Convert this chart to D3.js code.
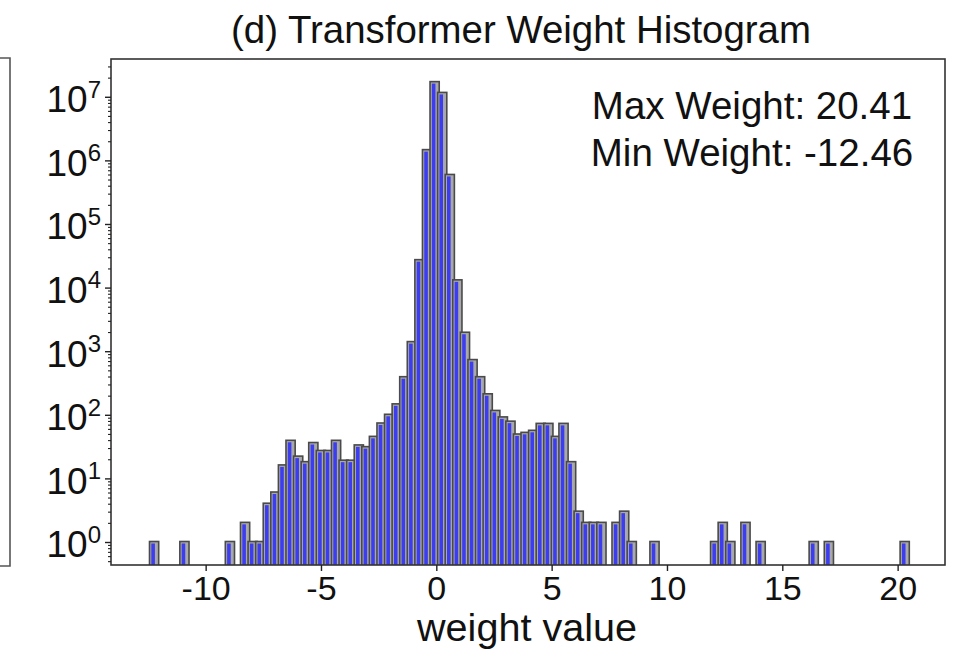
<!DOCTYPE html>
<html>
<head>
<meta charset="utf-8">
<script src="https://cdn.jsdelivr.net/npm/d3@7"></script>
<style>
  html, body { margin: 0; padding: 0; background: #fff; }
  svg { display: block; font-family: "Liberation Sans", Arial, Helvetica, sans-serif; }
</style>
</head>
<body>
<svg id="chart" width="961" height="659"></svg>
<script>
// ---- data ----
const titleText = "(d) Transformer Weight Histogram";
const xLabelText = "weight value";
const minWeight = -12.46;
const maxWeight = 20.41;
// counts of the 100 equal-width bins between minWeight and maxWeight
const binCounts = [
  1, 0, 0, 0, 1, 0, 0, 0, 0, 0,
  1, 0, 2, 1, 1, 4, 6, 16, 39, 22,
  18, 36, 27, 27, 39, 19, 19, 33, 31, 45,
  73, 100, 146, 390, 1390, 27000, 1450000, 17000000, 11500000, 590000,
  13000, 1950, 725, 390, 210, 115, 91, 78, 49, 52,
  56, 72, 72, 45, 72, 18, 3, 2, 2, 2,
  0, 2, 3, 1, 0, 0, 1, 0, 0, 0,
  0, 0, 0, 0, 1, 2, 1, 0, 2, 0,
  1, 0, 0, 0, 0, 0, 0, 1, 0, 1,
  0, 0, 0, 0, 0, 0, 0, 0, 0, 1
];
const xTickValues = [-10, -5, 0, 5, 10, 15, 20];
const yTickExponents = [0, 1, 2, 3, 4, 5, 6, 7];
const annotationLines = ["Max Weight: 20.41", "Min Weight: -12.46"];

// ---- layout ----
const svg = d3.select("#chart");
const W = 961, H = 659;
const margin = { left: 111, right: 16, top: 59, bottom: 94 };
const pw = W - margin.left - margin.right;
const ph = H - margin.top - margin.bottom;

const nBins = binCounts.length;
const binEdges = d3.range(nBins + 1).map(i => minWeight + (maxWeight - minWeight) * i / nBins);
const span = maxWeight - minWeight;

const x = d3.scaleLinear()
  .domain([minWeight - 0.05 * span, maxWeight + 0.05 * span])
  .range([margin.left, margin.left + pw]);

const y = d3.scaleLog()
  .domain([Math.pow(10, -0.3616), Math.pow(10, 7.594)])
  .range([margin.top + ph, margin.top]);

// partial neighbouring panel on the left edge
svg.append("path")
  .attr("d", `M0,${margin.top - 1}H10V${margin.top + ph + 1}H0`)
  .attr("fill", "none").attr("stroke", "#555").attr("stroke-width", 1.6);

svg.append("clipPath").attr("id", "plotclip")
  .append("rect").attr("x", margin.left).attr("y", margin.top)
  .attr("width", pw).attr("height", ph);

const bins = binCounts.map((c, i) => ({ x0: binEdges[i], x1: binEdges[i + 1], count: c }))
  .filter(d => d.count > 0);

const g = svg.append("g").attr("clip-path", "url(#plotclip)");
const bottomY = margin.top + ph + 2;

// grey outline bars
g.selectAll("rect.outline").data(bins).join("rect")
  .attr("class", "outline")
  .attr("x", d => x(d.x0) + 0.6)
  .attr("width", d => x(d.x1) - x(d.x0) + 1.6)
  .attr("y", d => y(d.count) - 0.5)
  .attr("height", d => bottomY - y(d.count) + 0.5)
  .attr("fill", "#a9a9a9")
  .attr("stroke", "#4a4a4a")
  .attr("stroke-width", 1.6);

// blue fill stripes
g.selectAll("rect.blue").data(bins).join("rect")
  .attr("class", "blue")
  .attr("x", d => x(d.x0) + 2.4)
  .attr("width", 3.6)
  .attr("y", d => y(d.count) + 1.5)
  .attr("height", d => bottomY - y(d.count))
  .attr("fill", "#3c3cf0");

// frame
svg.append("rect")
  .attr("x", margin.left).attr("y", margin.top)
  .attr("width", pw).attr("height", ph)
  .attr("fill", "none").attr("stroke", "#333").attr("stroke-width", 1.6);

// x axis
const xAxis = d3.axisBottom(x).tickValues(xTickValues).tickSize(6).tickPadding(5)
  .tickFormat(d => d3.format("d")(d).replace("−", "-"));
const xg = svg.append("g").attr("transform", `translate(0,${margin.top + ph})`).call(xAxis);
xg.select(".domain").remove();
xg.selectAll(".tick line").attr("stroke", "#222").attr("stroke-width", 1.4);
xg.selectAll(".tick text").attr("font-size", 34).attr("fill", "#111")
  .attr("font-family", "Liberation Sans, Arial, sans-serif");

// y axis (log) major ticks
const yMajor = yTickExponents.map(e => Math.pow(10, e));
const yAxis = d3.axisLeft(y).tickValues(yMajor).tickSize(6).tickPadding(5).tickFormat("");
const yg = svg.append("g").attr("transform", `translate(${margin.left},0)`).call(yAxis);
yg.select(".domain").remove();
yg.selectAll(".tick line").attr("stroke", "#222").attr("stroke-width", 1.4);
yg.selectAll(".tick").each(function(d, i) {
  const t = d3.select(this).append("text")
    .attr("x", -10).attr("dy", "0.4em")
    .attr("text-anchor", "end").attr("fill", "#111")
    .attr("font-family", "Liberation Sans, Arial, sans-serif")
    .attr("font-size", 37);
  t.append("tspan").text("10");
  t.append("tspan").attr("font-size", 24).attr("dy", "-0.6em").text(yTickExponents[i]);
});

// y minor ticks
const minor = [];
for (let e = -1; e <= 7; e++) for (let m = 2; m <= 9; m++) {
  const v = m * Math.pow(10, e);
  if (v >= y.domain()[0] && v <= y.domain()[1]) minor.push(v);
}
const ym = d3.axisLeft(y).tickValues(minor).tickSize(3).tickFormat("");
const ymg = svg.append("g").attr("transform", `translate(${margin.left},0)`).call(ym);
ymg.select(".domain").remove();
ymg.selectAll(".tick line").attr("stroke", "#222").attr("stroke-width", 1.1);

// title
svg.append("text")
  .attr("x", 521).attr("y", 43)
  .attr("text-anchor", "middle").attr("font-size", 38.5).attr("fill", "#111")
  .attr("textLength", 580).attr("lengthAdjust", "spacingAndGlyphs")
  .text(titleText);

// x label
svg.append("text")
  .attr("x", 527).attr("y", 641)
  .attr("text-anchor", "middle").attr("font-size", 38).attr("fill", "#111")
  .attr("textLength", 220).attr("lengthAdjust", "spacingAndGlyphs")
  .text(xLabelText);

// annotation
const ann = svg.append("text")
  .attr("text-anchor", "middle").attr("font-size", 38.5).attr("fill", "#111");
annotationLines.forEach((line, i) => {
  ann.append("tspan").attr("x", 752).attr("y", 119 + i * 47).text(line);
});
</script>
</body>
</html>
